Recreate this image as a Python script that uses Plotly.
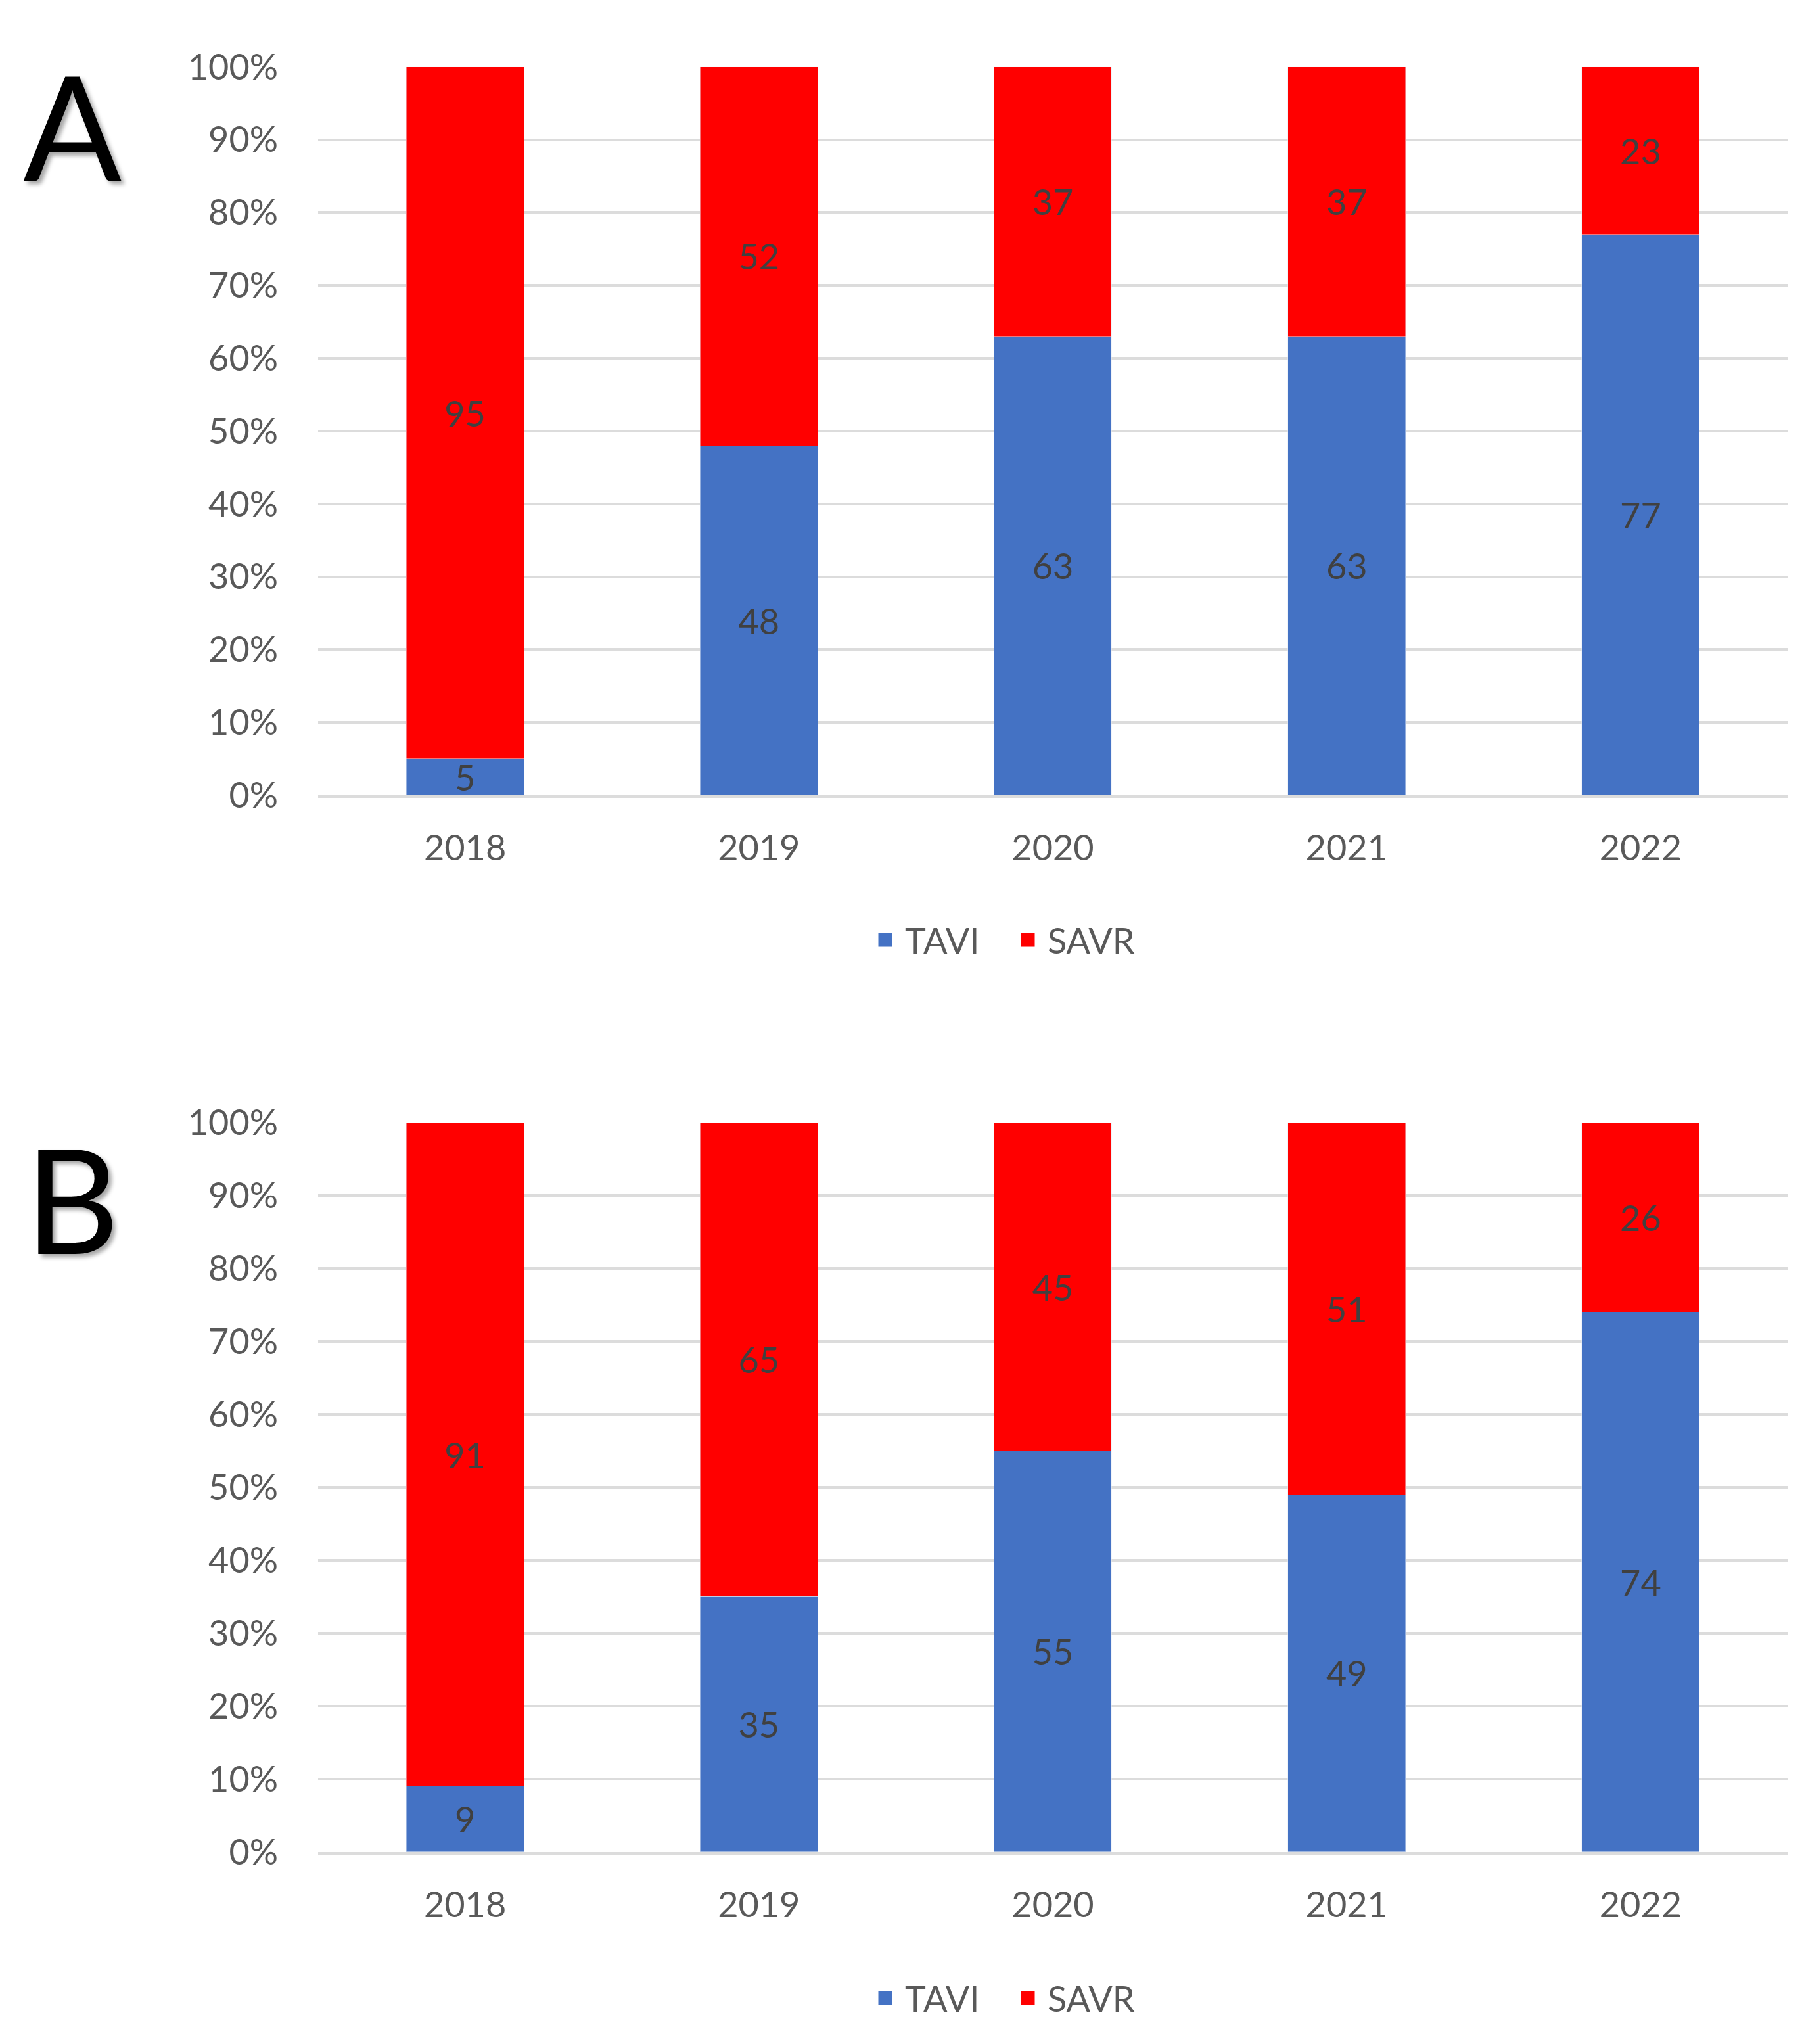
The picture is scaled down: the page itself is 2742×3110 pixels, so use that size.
import plotly.graph_objects as go

years = ["2018", "2019", "2020", "2021", "2022"]
tavi_a = [5, 48, 63, 63, 77]
savr_a = [95, 52, 37, 37, 23]
tavi_b = [9, 35, 55, 49, 74]
savr_b = [91, 65, 45, 51, 26]
y_ticks = [0, 10, 20, 30, 40, 50, 60, 70, 80, 90, 100]
y_ticktext = [f"{v}%" for v in y_ticks]

W, H = 2742, 3110
BLUE = "#4472C4"
RED = "#FF0000"
FONT = "Lato"
TXT = "#595959"
LBL = "#404040"
GRID = "#dcdcdc"
FS = 54

fig = go.Figure()

def add_pair(tavi, savr, xa, ya, leg):
    for vals, name, col in ((tavi, "TAVI", BLUE), (savr, "SAVR", RED)):
        fig.add_trace(go.Bar(x=years, y=vals, name=name, marker_color=col,
                             xaxis=xa, yaxis=ya, showlegend=False,
                             text=vals, texttemplate="%{text}", textposition="inside",
                             insidetextanchor="middle", constraintext="none",
                             textangle=0, textfont=dict(color=LBL, size=FS, family=FONT)))
    # legend entries (square swatches)
    for name, col in (("TAVI", BLUE), ("SAVR", RED)):
        fig.add_trace(go.Scatter(x=[None], y=[None], mode="markers", name=name,
                                 xaxis=xa, yaxis=ya, legend=leg, hoverinfo="skip",
                                 marker=dict(symbol="square", size=16, color=col,
                                             line=dict(color=col, width=5))))

add_pair(tavi_a, savr_a, "x", "y", "legend")
add_pair(tavi_b, savr_b, "x2", "y2", "legend2")

xdom = [476 / W, 2712 / W]
ydom_a = [1 - 1193 / H, 1 - 61 / H]
ydom_b = [1 - 2835 / H, 1 - 1702 / H]

xax = dict(domain=xdom, showgrid=False, zeroline=False, showline=True,
           linecolor=GRID, linewidth=4, ticks="", ticklabelstandoff=30,
           tickfont=dict(size=FS, color=TXT, family=FONT), fixedrange=True)
yax = dict(range=[0, 100], tickvals=y_ticks, ticktext=y_ticktext,
           showgrid=True, gridcolor=GRID, gridwidth=4, zeroline=False,
           showline=False, ticks="", ticklabelstandoff=60,
           tickfont=dict(size=FS, color=TXT, family=FONT))

leg_common = dict(orientation="h", xanchor="center", yanchor="middle",
                  font=dict(size=FS, color=TXT, family=FONT),
                  traceorder="normal", itemwidth=50,
                  entrywidth=152, entrywidthmode="pixels",
                  bgcolor="rgba(0,0,0,0)")

fig.update_layout(
    width=W, height=H,
    margin=dict(l=0, r=0, t=0, b=0),
    paper_bgcolor="white", plot_bgcolor="white",
    barmode="stack", bargap=0.6,
    font=dict(family=FONT, color=TXT),
    xaxis=dict(**xax, anchor="y"),
    yaxis=dict(**yax, domain=ydom_a, anchor="x"),
    xaxis2=dict(**xax, anchor="y2"),
    yaxis2=dict(**yax, domain=ydom_b, anchor="x2"),
    legend=dict(**leg_common, x=1526 / W, y=1 - 1418 / H),
    legend2=dict(**leg_common, x=1526 / W, y=1 - 3062 / H),
    annotations=[
        dict(text="A", xref="paper", yref="paper", x=102 / W, y=1 - 150 / H,
             xanchor="center", yanchor="middle", showarrow=False,
             font=dict(size=222, color="black", family=FONT,
                       shadow="5px 5px 6px rgba(0,0,0,0.35)")),
        dict(text="B", xref="paper", yref="paper", x=102 / W, y=1 - 1818 / H,
             xanchor="center", yanchor="middle", showarrow=False,
             font=dict(size=222, color="black", family=FONT,
                       shadow="5px 5px 6px rgba(0,0,0,0.35)")),
    ],
)

fig.write_html("out.html")
